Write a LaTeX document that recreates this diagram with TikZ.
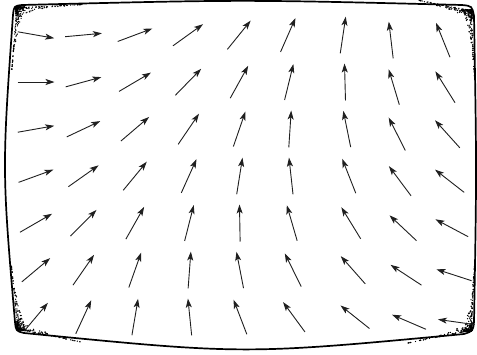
\documentclass[tikz,border=0pt]{standalone}
\usetikzlibrary{arrows.meta}
\begin{document}
\begin{tikzpicture}[
  x=1pt, y=-1pt,
  vec/.style={-{Stealth[length=9pt,width=6pt,inset=2.2pt]}, line width=0.9pt, black!88},
  screen/.style={line width=1.7pt, line join=round},
  grain/.style={fill=black}
]
\useasboundingbox (0,0) rectangle (477,354);

% screen outline, slightly bulging sides
\draw[screen] (22,5) .. controls (243,-0.5) .. (462,5)
  .. controls (472,6) .. (474,16)
  .. controls (476.7,171) .. (474,322)
  .. controls (473,331) .. (464,334)
  .. controls (244,354.7) .. (24,333)
  .. controls (16,331) .. (15,322)
  .. controls (2,170) .. (13,15)
  .. controls (14,6) .. cycle;

% grain in the corners
\pgfmathsetseed{42}
\foreach \cx/\cy/\sx/\sy/\ka/\kb in {16/7/1/1/0.05/0.08, 472/10/-1/1/0.2/0.05,
                                     17/330/1/-1/0.2/0.1, 472/331/-1/-1/0.2/0.05}{
  \foreach \i in {1,...,170}{
    \pgfmathsetmacro\a{66*rnd^4}
    \pgfmathsetmacro\b{0.8+8*rnd^2*(1-\a/68)^2}
    \pgfmathsetmacro\px{\cx+\sx*\a}
    \pgfmathsetmacro\py{\cy+\sy*(\b-\ka*\a)}
    \fill[grain] (\px,\py) circle (0.7);
    \pgfmathsetmacro\a{66*rnd^4}
    \pgfmathsetmacro\b{0.8+8*rnd^2*(1-\a/68)^2}
    \pgfmathsetmacro\px{\cx+\sx*(\b-\kb*\a)}
    \pgfmathsetmacro\py{\cy+\sy*\a}
    \fill[grain] (\px,\py) circle (0.7);
  }
}

% the field
\foreach \c in {1,...,9}{
  \foreach \r in {1,...,7}{
    \pgfmathsetmacro\ang{-10+15.25*(\c-1)+10*(\r-1)}
    \pgfmathsetmacro\mx{{36,83.5,135,188,239,288,343,391,443}[\c-1]+{0,0,0,0.3,0.2,1,2,3,2.2}[\c-1]*(\r-1)}
    \pgfmathsetmacro\my{35+47*(\r-1)+5*(\c>7)}
    \draw[vec] ({\mx-18.5*cos(\ang)}, {\my+18.5*sin(\ang)})
      -- ({\mx+18.5*cos(\ang)}, {\my-18.5*sin(\ang)});
  }
}
\end{tikzpicture}
\end{document}
